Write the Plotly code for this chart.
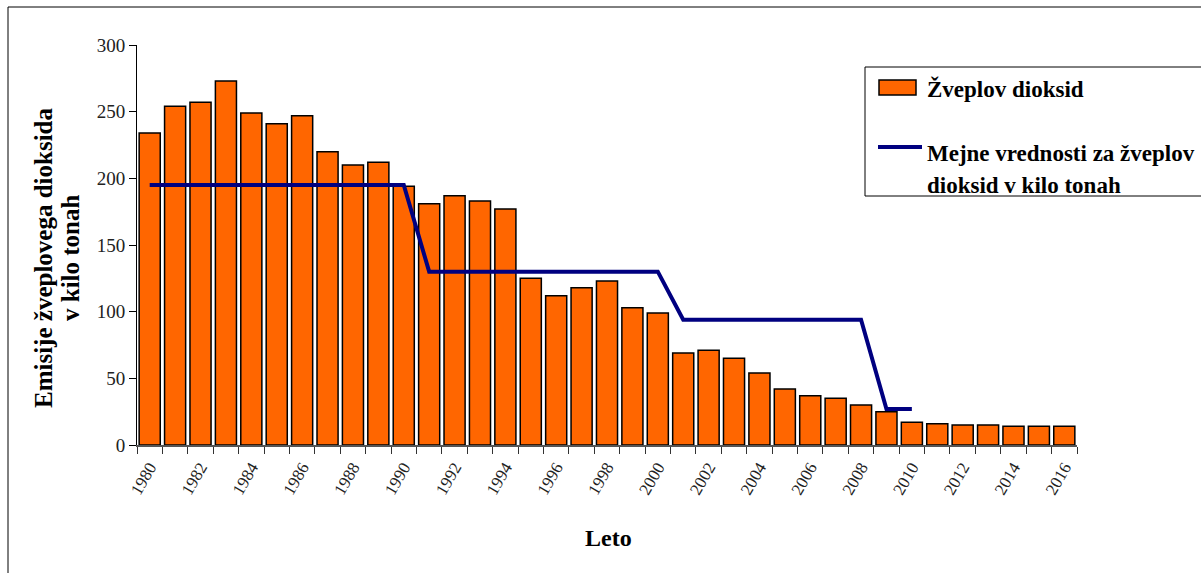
import plotly.graph_objects as go

# Annual sulphur dioxide emissions (kilo tonnes)
years = list(range(1980, 2017))
emissions = [234, 254, 257, 273, 249, 241, 247, 220, 210, 212,
             194, 181, 187, 183, 177, 125, 112, 118, 123, 103,
             99, 69, 71, 65, 54, 42, 37, 35, 30, 25,
             17, 16, 15, 15, 14, 14, 14]

# Emission ceiling values (kilo tonnes)
limit_years = list(range(1980, 2011))
limit_values = [195] * 11 + [130] * 10 + [94] * 8 + [27] * 2

tick_years = list(range(1980, 2017, 2))
tick_labels = [str(y) for y in tick_years]

serif = "Liberation Serif"

fig = go.Figure()
fig.add_trace(go.Bar(
    x=years, y=emissions, name="Žveplov dioksid",
    marker=dict(color="#FF6600", line=dict(color="#000000", width=1.5)),
))
fig.add_trace(go.Scatter(
    x=limit_years, y=limit_values, mode="lines",
    name="Mejne vrednosti za žveplov dioksid v kilo tonah",
    line=dict(color="#000080", width=4),
))

L, R, T, B = 137, 124, 45, 128
W, H = 1201, 573
pw, ph = W - L - R, H - T - B


def px(x):
    return (x - L) / pw


def py(y):
    return (H - B - y) / ph


shapes = [
    # outer chart frame
    dict(type="rect", xref="paper", yref="paper",
         x0=px(8), x1=px(1260), y0=py(620), y1=py(7),
         line=dict(color="#000000", width=1), fillcolor="rgba(0,0,0,0)"),
    # legend frame
    dict(type="rect", xref="paper", yref="paper",
         x0=px(865), x1=px(1260), y0=py(196), y1=py(67),
         line=dict(color="#000000", width=1), fillcolor="white"),
    # legend swatch: bars
    dict(type="rect", xref="paper", yref="paper",
         x0=px(879), x1=px(916), y0=py(95), y1=py(80),
         line=dict(color="#000000", width=1.5), fillcolor="#FF6600"),
    # legend swatch: line
    dict(type="line", xref="paper", yref="paper",
         x0=px(878), x1=px(922), y0=py(147), y1=py(147),
         line=dict(color="#000080", width=4)),
]

legend_font = dict(family=serif, size=23, color="#000000")
title_font = dict(family=serif, size=25, color="#000000")


def label(text, x, y, font, angle=0, anchor="left"):
    return dict(text=text, xref="paper", yref="paper", x=px(x), y=py(y),
                xanchor=anchor, yanchor="middle", textangle=angle,
                showarrow=False, font=font)


annotations = [
    label("<b>Žveplov dioksid</b>", 925, 89, legend_font),
    label("<b>Mejne vrednosti za žveplov</b>", 925, 153, legend_font),
    label("<b>dioksid v kilo tonah</b>", 925, 185, legend_font),
    label("<b>Emisije žveplovega dioksida</b>", 43, 258, title_font, -90, "center"),
    label("<b>v kilo tonah</b>", 70, 258, title_font, -90, "center"),
    label("<b>Leto</b>", 608, 538, dict(family=serif, size=24, color="#000000"),
          0, "center"),
]

fig.update_layout(
    width=W, height=H,
    margin=dict(l=L, r=R, t=T, b=B, autoexpand=False),
    paper_bgcolor="white", plot_bgcolor="white",
    showlegend=False, bargap=0.17,
    shapes=shapes, annotations=annotations,
    font=dict(family=serif, color="#222222"),
    xaxis=dict(
        range=[1979.5, 2016.5], tickmode="array",
        tickvals=tick_years, ticktext=tick_labels, tickangle=-60,
        ticks="", showgrid=False, zeroline=False,
        showline=True, linecolor="#555555", linewidth=1.5,
        ticklabelstandoff=4,
        tickfont=dict(family=serif, size=17, color="#222222"),
        minor=dict(tickvals=[y - 0.5 for y in years] + [2016.5],
                   ticks="outside", ticklen=7, tickcolor="#333333",
                   tickwidth=1, showgrid=False),
    ),
    yaxis=dict(
        range=[0, 300], dtick=50, ticks="outside", ticklen=7,
        tickcolor="#000000", showgrid=False, zeroline=False,
        showline=True, linecolor="#000000", linewidth=1,
        tickfont=dict(family=serif, size=19, color="#222222"),
    ),
)

fig.write_html("out.html")
